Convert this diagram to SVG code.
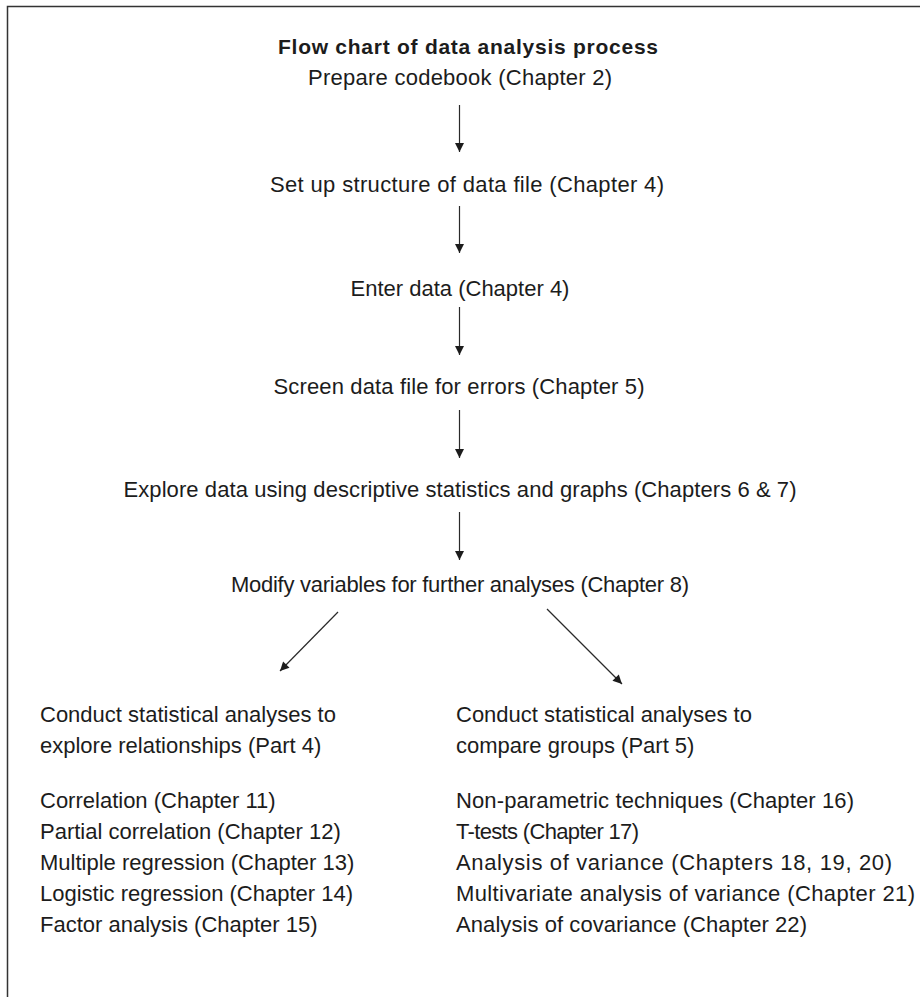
<svg xmlns="http://www.w3.org/2000/svg" width="920" height="997" viewBox="0 0 920 997">
<style>
text{font-family:"Liberation Sans",Arial,sans-serif;font-size:22px;fill:#1c1c1c}
.c{text-anchor:middle}
.t{font-weight:bold;font-size:21px}
.ln{stroke:#2a2a2a;stroke-width:1.2;fill:none}
.bd{stroke:#333;stroke-width:1.5;fill:none}
</style>
<defs>
<marker id="ah" viewBox="0 0 10 10" refX="10" refY="5" markerWidth="10" markerHeight="9" markerUnits="userSpaceOnUse" orient="auto">
<path d="M0,0 L10,5 L0,10 z" fill="#1c1c1c"/>
</marker>
</defs>
<rect width="920" height="997" fill="#fff"/>
<path class="bd" d="M7.5,997 V6.5 H920"/>
<g id="title"><text class="c t" x="468" y="54" textLength="380" lengthAdjust="spacing">Flow chart of data analysis process</text></g>
<g id="n1"><text class="c" x="460" y="85" textLength="304" lengthAdjust="spacing">Prepare codebook (Chapter 2)</text></g>
<g id="n2"><text class="c" x="467" y="192" textLength="394" lengthAdjust="spacing">Set up structure of data file (Chapter 4)</text></g>
<g id="n3"><text class="c" x="460" y="296">Enter data (Chapter 4)</text></g>
<g id="n4"><text class="c" x="459" y="394" textLength="371" lengthAdjust="spacing">Screen data file for errors (Chapter 5)</text></g>
<g id="n5"><text class="c" x="460" y="497" textLength="673" lengthAdjust="spacing">Explore data using descriptive statistics and graphs (Chapters 6 &amp; 7)</text></g>
<g id="n6"><text class="c" x="460" y="592" textLength="458" lengthAdjust="spacing">Modify variables for further analyses (Chapter 8)</text></g>
<g id="n7">
<text x="40" y="722">Conduct statistical analyses to</text>
<text x="40" y="753">explore relationships (Part 4)</text>
<text x="40" y="808">Correlation (Chapter 11)</text>
<text x="40" y="839">Partial correlation (Chapter 12)</text>
<text x="40" y="870">Multiple regression (Chapter 13)</text>
<text x="40" y="901">Logistic regression (Chapter 14)</text>
<text x="40" y="932">Factor analysis (Chapter 15)</text>
</g>
<g id="n8">
<text x="456" y="722">Conduct statistical analyses to</text>
<text x="456" y="753">compare groups (Part 5)</text>
<text x="456" y="808" textLength="398" lengthAdjust="spacing">Non-parametric techniques (Chapter 16)</text>
<text x="456" y="839" textLength="183" lengthAdjust="spacing">T-tests (Chapter 17)</text>
<text x="456" y="870" textLength="436" lengthAdjust="spacing">Analysis of variance (Chapters 18, 19, 20)</text>
<text x="456" y="901" textLength="459" lengthAdjust="spacing">Multivariate analysis of variance (Chapter 21)</text>
<text x="456" y="932" textLength="351" lengthAdjust="spacing">Analysis of covariance (Chapter 22)</text>
</g>
<g id="connectors">
<line class="ln" x1="459.5" y1="105" x2="459.5" y2="152" marker-end="url(#ah)"/>
<line class="ln" x1="459.5" y1="206" x2="459.5" y2="253" marker-end="url(#ah)"/>
<line class="ln" x1="459.5" y1="307" x2="459.5" y2="355" marker-end="url(#ah)"/>
<line class="ln" x1="459.5" y1="410" x2="459.5" y2="458" marker-end="url(#ah)"/>
<line class="ln" x1="459.5" y1="512" x2="459.5" y2="560" marker-end="url(#ah)"/>
<line class="ln" x1="338" y1="612" x2="280" y2="671" marker-end="url(#ah)"/>
<line class="ln" x1="547" y1="609" x2="622" y2="684" marker-end="url(#ah)"/>
</g>
</svg>
